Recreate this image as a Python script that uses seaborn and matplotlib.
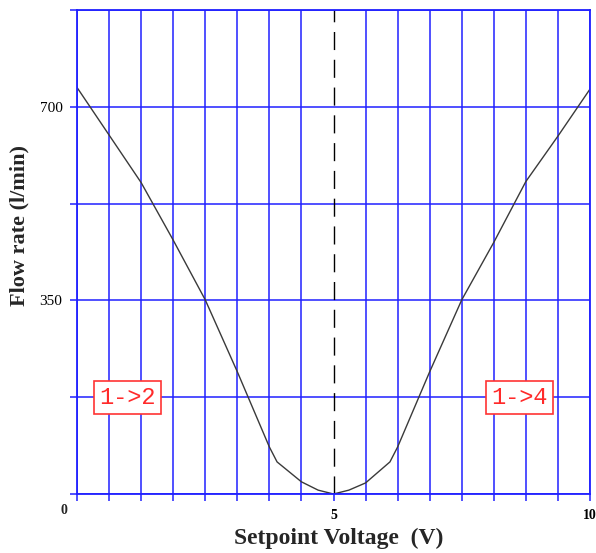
import numpy as np
import matplotlib
matplotlib.use("Agg")
import matplotlib.pyplot as plt
import seaborn as sns

# values
voltage = [0.0, 0.625, 1.25, 1.875, 2.5, 3.125, 3.75, 3.9, 4.375, 4.7, 5.0,
           5.3, 5.625, 6.1, 6.25, 6.875, 7.5, 8.125, 8.75, 9.375, 10.0]
flow = [735, 649, 563, 459, 351, 221, 85, 58, 22, 7, 0,
        7, 20, 58, 85, 221, 351, 455, 565, 647, 732]

x_ticks = np.arange(0, 10.001, 0.625)
y_ticks = np.arange(0, 876, 175)
x_labels = {5.0: "5", 10.0: "10"}
y_labels = {350: "350", 700: "700"}
regions = [("1->2", 0.98, 175), ("1->4", 8.63, 175)]

sns.set_style("white")
plt.rcParams['font.family'] = ['Liberation Serif', 'DejaVu Serif']

blue = "#2020ff"
fig = plt.figure(figsize=(5.96, 5.53), dpi=100)
ax = fig.add_axes([77/596, 1 - 494/553, 513/596, 484/553])

sns.lineplot(x=voltage, y=flow, ax=ax, color="#3a3a3a", linewidth=1.0,
             estimator=None, sort=False)

ax.set_xlim(0, 10)
ax.set_ylim(0, 875)
ax.set_xticks(x_ticks)
ax.set_yticks(y_ticks)
ax.set_xticklabels([x_labels.get(round(v, 3), "") for v in x_ticks],
                   fontweight="bold", fontsize=10)
ax.set_yticklabels([y_labels.get(int(v), "") for v in y_ticks], fontsize=11)
ax.tick_params(axis="both", bottom=True, left=True, direction="out",
               colors=blue, length=5, width=1.1, labelcolor="black")
ax.tick_params(axis="x", pad=6)
ax.tick_params(axis="y", pad=5.5)

ax.grid(True, color=blue, linewidth=1.1)
for v, gl in zip(x_ticks, ax.get_xgridlines()):
    if abs(v - 5) < 1e-6:
        gl.set_visible(False)
ax.axvline(5, color="black", linewidth=1.0, linestyle=(0, (13, 7)))

for s in ax.spines.values():
    s.set_color(blue)
    s.set_linewidth(1.3)

for txt, xv, yv in regions:
    ax.text(xv, yv, txt, color="#ff2a2a", fontsize=17, family="Liberation Mono",
            ha="center", va="center",
            bbox=dict(boxstyle="square,pad=0.22", facecolor="white",
                      edgecolor="#ff3333", linewidth=1.2))

fig.text(64/596, 1 - 510/553, "0", fontweight="bold", fontsize=10,
         ha="center", va="center")

ax.set_xlabel("Setpoint Voltage  (V)", fontsize=17, fontweight="bold")
ax.xaxis.label.set_va("center")
ax.xaxis.set_label_coords((339 - 77) / 513, (494 - 538) / 484)
ax.set_ylabel("Flow rate (l/min)", fontsize=16, fontweight="bold")
ax.yaxis.label.set_va("center")
ax.yaxis.set_label_coords((19 - 77) / 513, (494 - 225) / 484)

fig.savefig("out.png", dpi=100)
